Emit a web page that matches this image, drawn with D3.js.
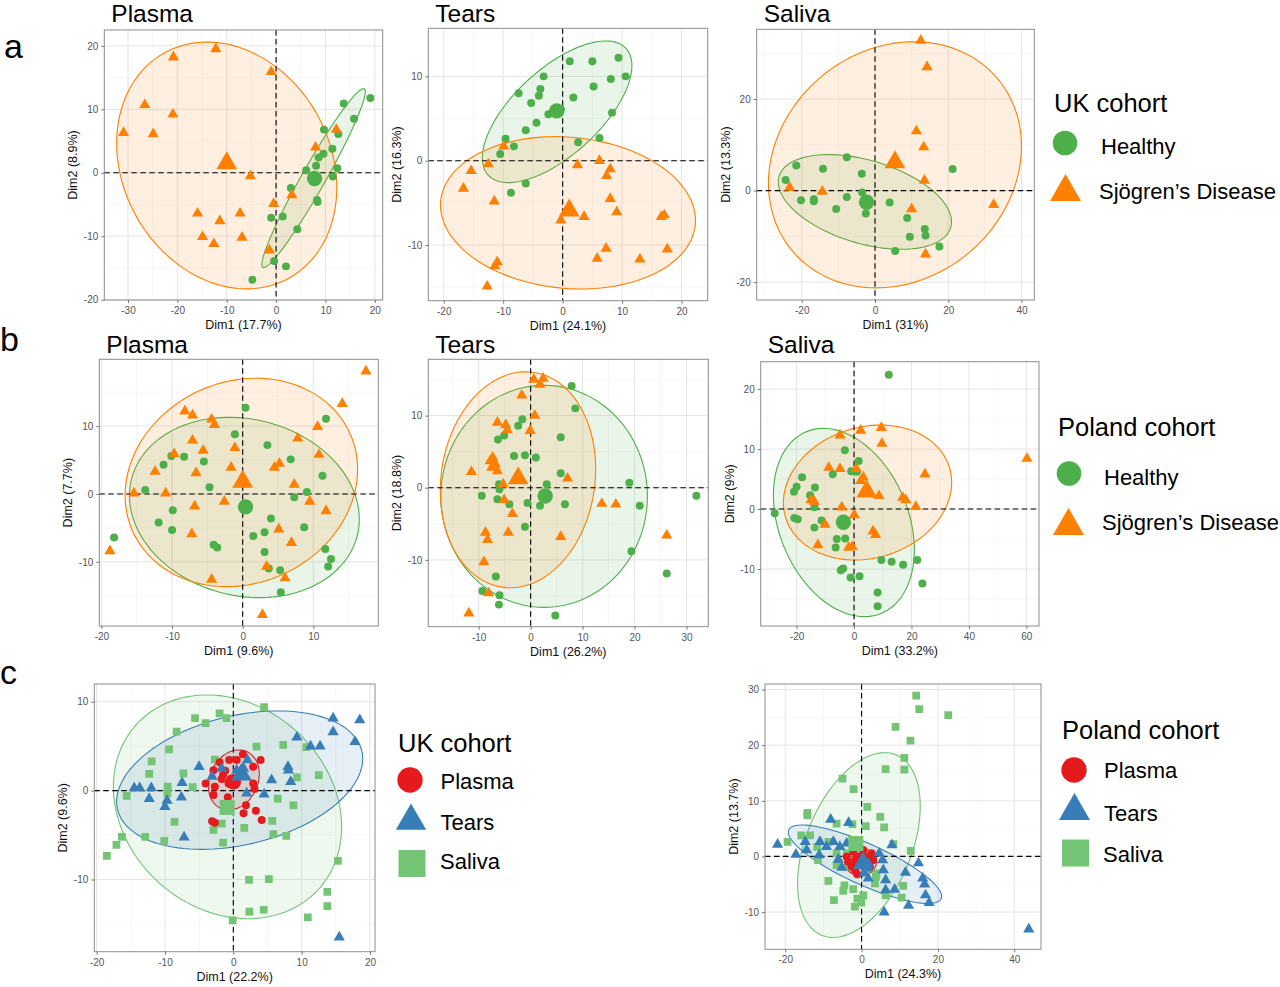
<!DOCTYPE html>
<html>
<head>
<meta charset="utf-8">
<script src="https://cdn.jsdelivr.net/npm/d3@7"></script>
<style>
body { margin: 0; background: #fff; }
svg { display: block; font-family: "Liberation Sans", Arial, sans-serif; }
</style>
</head>
<body>
<svg width="1280" height="987"></svg>
<script>
// ---------- PCA scores (Dim1, Dim2) ----------
// row a: UK cohort, healthy vs Sjogren's
var ukPlasmaHealthy = [[19.1,11.8],[13.7,10.9],[15.8,8.5],[9.7,6.8],[12.6,6.1],[11.4,3.8],[9.6,3.0],[8.6,2.4],[8.1,1.1],[6.1,0.4],[12.4,0.7],[11.5,-0.6],[3.0,-2.4],[8.3,-4.3],[8.4,-4.6],[1.35,-6.9],[-1.0,-7.1],[4.3,-8.9],[-0.4,-13.9],[2.0,-14.75],[-4.8,-16.85]];
var ukPlasmaSjogren = [[-12.2,19.5],[-20.8,18.2],[-1.0,15.9],[-26.6,10.7],[-20.9,9.2],[-30.9,6.3],[-24.9,6.1],[12.2,6.8],[8.0,4.0],[-5.2,-0.5],[3.2,-3.5],[-0.5,-4.9],[-15.9,-6.4],[-7.3,-6.4],[-11.4,-7.6],[-14.9,-10.1],[-6.9,-10.2],[-12.6,-11.2],[-1.35,-12.2]];
var ukTearsHealthy = [[9.4,12.2],[1.2,11.8],[5.0,11.8],[-3.2,10.0],[8.1,9.7],[10.6,10.0],[5.2,8.8],[-3.75,8.5],[-7.4,8.0],[-4.0,7.7],[1.8,7.5],[-5.3,6.85],[8.3,5.7],[-2.4,5.5],[-4.4,4.5],[-6.2,3.6],[-9.6,2.6],[6.2,2.7],[2.6,2.2],[-8.2,1.7],[-10.5,0.8],[-6.2,-2.7],[-8.7,-3.8],[-1.6,5.7],[-0.3,6.1]];
var ukTearsSjogren = [[-9.9,1.7],[6.2,0.0],[-12.5,-0.4],[2.5,-0.5],[8.0,-1.0],[7.4,-1.8],[-15.4,-1.2],[-16.7,-3.3],[8.0,-4.5],[-11.5,-4.8],[9.1,-6.1],[3.6,-6.65],[16.6,-6.65],[17.1,-6.45],[-0.3,-7.05],[7.3,-10.4],[17.6,-10.5],[5.8,-11.6],[13.0,-11.7],[-11.0,-12.0],[-11.4,-12.5],[-12.7,-14.9]];
var ukSalivaHealthy = [[-7.7,7.3],[-21.5,5.5],[-14.2,4.8],[-3.6,3.7],[21.2,4.7],[-24.4,2.3],[-3.5,-0.4],[-7.7,-1.4],[-20.2,-2.1],[-16.7,-1.9],[-16.7,-2.3],[4.0,-2.6],[-10.6,-4.0],[-2.5,-5.0],[8.8,-6.0],[13.6,-8.4],[13.8,-9.8],[9.5,-10.1],[17.6,-12.2],[5.5,-13.2]];
var ukSalivaSjogren = [[12.5,32.8],[14.2,27.0],[11.3,13.0],[13.3,9.5],[13.5,2.2],[-23.3,0.7],[-14.4,-0.2],[10.0,-4.0],[32.4,-3.1],[13.8,-13.9]];

// row b: Poland cohort, healthy vs Sjogren's
var plPlasmaHealthy = [[0.4,12.7],[11.8,11.1],[-1.1,8.8],[3.5,7.2],[-10.1,5.6],[-8.3,5.5],[-5.5,4.8],[6.8,5.1],[-11.2,4.3],[11.3,2.7],[-4.7,1.0],[-13.8,0.6],[9.1,0.3],[7.3,-0.5],[-9.9,-2.4],[-11.9,-4.2],[4.0,-3.6],[8.7,-4.9],[-10.0,-5.3],[3.1,-5.65],[1.5,-6.2],[-18.2,-6.4],[-4.1,-7.5],[-3.6,-7.9],[3.1,-8.55],[11.7,-8.1],[12.5,-9.6],[12.1,-10.7],[3.7,-11.0],[5.3,-11.25],[5.4,-14.5]];
var plPlasmaSjogren = [[17.45,18.1],[14.1,13.3],[-8.2,12.2],[-7.1,11.6],[-4.4,11.0],[-4.0,10.2],[10.6,9.9],[7.8,8.2],[-7.1,7.9],[-1.1,6.8],[-9.7,5.9],[-5.6,6.4],[10.8,5.8],[5.2,4.5],[4.5,3.9],[-1.65,3.9],[-12.4,3.3],[-6.6,3.1],[7.3,1.4],[-15.4,0.1],[-10.9,0.1],[-2.6,-1.1],[9.5,-1.1],[-6.8,-1.8],[11.8,-2.5],[5.1,-5.2],[-7.2,-5.9],[6.9,-7.2],[-18.8,-8.4],[3.4,-10.7],[6.0,-12.4],[-4.4,-12.6],[2.8,-17.8]];
var plTearsHealthy = [[7.9,14.1],[8.6,11.0],[-1.6,9.5],[-2.4,8.6],[5.8,7.0],[-5.1,7.25],[-6.3,6.7],[-3.2,4.4],[-1.1,4.5],[1.0,4.2],[5.8,2.0],[19.0,0.7],[3.1,0.5],[-6.1,0.5],[-6.0,-0.2],[-9.4,-1.1],[31.9,-1.1],[-6.4,-1.6],[-0.6,-2.1],[-4.1,-2.3],[1.8,-2.5],[6.6,-2.3],[21.0,-2.5],[-1.1,-5.4],[19.4,-8.8],[-6.7,-12.3],[26.2,-11.9],[-9.3,-14.3],[-6.0,-14.9],[-6.1,-16.2],[4.75,-17.7]];
var plTearsSjogren = [[0.6,15.0],[2.4,15.15],[1.8,14.3],[-1.7,12.8],[0.8,10.0],[-6.4,9.05],[-4.8,8.7],[-4.5,8.0],[-0.1,7.9],[-7.3,4.2],[-7.8,3.7],[-6.8,3.3],[-7.5,2.8],[-6.4,2.3],[-11.4,2.2],[7.1,1.3],[-5.3,0.5],[-5.1,-1.7],[13.7,-2.2],[16.4,-2.3],[-3.5,-3.6],[-8.7,-6.2],[-4.3,-6.2],[-8.3,-7.2],[5.8,-6.8],[26.2,-6.6],[-9.0,-10.3],[-8.1,-14.6],[-11.9,-17.4]];
var plSalivaHealthy = [[12.1,22.4],[-3.2,9.8],[1.6,8.0],[-1.0,6.3],[1.0,6.2],[-7.4,5.8],[-18.1,5.3],[-20.0,3.7],[-20.9,2.9],[-13.6,3.6],[-15.3,2.3],[-13.8,0.3],[-27.6,-0.7],[-20.8,-1.5],[-19.6,-1.7],[-11.3,-1.9],[-13.8,-3.1],[-6.0,-5.0],[-3.1,-4.9],[-6.4,-6.4],[9.5,-8.5],[13.1,-8.8],[22.0,-8.5],[17.1,-9.3],[-4.6,-10.2],[-3.8,-9.9],[-1.2,-11.4],[1.9,-11.2],[23.8,-12.4],[8.2,-13.9],[8.2,-16.2]];
var plSalivaSjogren = [[60.2,8.4],[-4.9,12.3],[2.3,13.1],[9.5,13.55],[9.7,10.9],[-8.8,6.9],[-4.9,6.7],[0.8,6.7],[3.2,5.3],[24.7,5.8],[2.3,4.7],[8.7,2.2],[16.9,1.9],[18.0,1.5],[21.5,0.4],[-15.0,1.5],[-13.8,1.2],[-4.3,0.3],[0.1,-1.0],[-10.1,-2.6],[6.6,-3.7],[7.5,-4.3],[-12.6,-6.0],[-1.9,-6.4],[-0.6,-6.3]];

// row c: all samples by fluid
var ukFluidPlasma = [[1.4,4.1],[0.5,3.45],[-0.6,3.45],[4.0,3.45],[2.9,2.7],[-2.0,3.2],[-2.9,2.3],[-1.2,2.25],[1.0,1.8],[-1.7,1.3],[-0.4,1.3],[-0.7,0.8],[-4.05,0.8],[-2.7,0.45],[2.9,0.8],[3.1,0.2],[-2.9,-0.5],[-0.8,-0.75],[1.85,-1.65],[3.3,-2.25],[1.5,-2.55],[4.15,-3.3],[-3.1,-3.45],[-2.7,-3.6],[0.0,1.2],[-1.5,1.75]];
var ukFluidTears = [[14.6,8.15],[18.5,7.95],[14.6,6.6],[17.8,5.5],[9.3,6.0],[11.3,5.0],[12.7,5.0],[-5.0,2.7],[8.0,2.7],[8.05,2.3],[-3.1,1.6],[-1.7,2.5],[2.05,3.45],[5.6,1.2],[8.4,1.0],[-7.5,0.9],[-14.5,0.3],[-13.7,0.3],[-12.0,0.3],[-12.3,-0.9],[-9.7,-1.1],[-10.0,-1.8],[-7.6,-0.75],[1.95,-0.3],[4.5,-0.4],[-7.2,-5.25],[15.5,-16.5],[0.5,2.3],[1.5,2.5]];
var ukFluidSaliva = [[4.5,9.4],[-2.0,8.7],[-1.0,8.15],[-5.6,8.15],[-4.05,7.6],[-8.3,6.65],[-9.4,4.65],[3.4,4.95],[7.3,5.15],[10.7,4.9],[-11.95,3.3],[-12.3,1.9],[-2.7,3.5],[-7.3,1.95],[12.5,1.75],[9.3,1.5],[-5.95,0.4],[-9.6,0.45],[-9.65,-0.3],[-15.6,-0.6],[6.5,-0.9],[8.8,-1.65],[-8.6,-3.5],[5.7,-3.4],[-1.7,-3.7],[1.6,-4.2],[-2.9,-4.4],[-12.9,-5.2],[-10.1,-5.65],[-16.3,-5.2],[-17.1,-6.1],[-18.5,-7.35],[-1.5,-5.85],[5.85,-4.9],[7.75,-5.1],[15.3,-7.9],[2.3,-10.05],[5.2,-9.95],[13.75,-11.4],[13.75,-13.0],[2.35,-13.6],[4.45,-13.4],[10.9,-14.25],[-0.1,-14.6]];
var plFluidPlasma = [[-1.3,-0.35],[-0.45,-1.25],[-1.75,-2.45],[1.3,-0.05],[2.6,0.55],[-3.5,-0.95],[-2.2,0.85],[0.45,1.15],[-1.15,-3.2],[2.2,-1.85],[-2.6,-1.85],[-0.6,0.05],[3.05,-0.65],[-3.9,-0.05]];
var plFluidTears = [[-22.0,2.15],[-8.1,6.65],[-3.4,6.05],[-17.2,0.35],[-14.75,2.65],[-14.4,1.15],[-10.9,2.65],[-9.2,1.75],[-7.4,2.65],[-5.7,1.75],[-3.9,2.35],[-11.1,0.25],[-6.1,-0.55],[-5.2,-2.0],[-0.45,-0.55],[1.75,-1.25],[4.6,0.55],[5.5,-0.65],[5.7,-2.45],[1.75,-3.95],[6.3,-4.25],[7.95,2.05],[6.3,-6.05],[8.65,-5.95],[11.5,-2.9],[14.9,-1.2],[16.0,-3.95],[16.5,-5.0],[16.75,-6.95],[17.7,-8.35],[12.3,-8.85],[5.9,-10.05],[43.8,-13.1],[0.6,-3.05],[1.3,-2.15]];
var plFluidSaliva = [[14.3,28.9],[15.1,26.5],[22.7,25.4],[8.9,23.3],[12.8,20.8],[11.2,17.7],[11.2,15.6],[6.3,15.7],[-5.0,14.0],[-2.1,12.1],[1.5,8.9],[-14.2,7.85],[-14.2,7.4],[4.9,7.1],[5.9,5.2],[1.1,5.45],[-6.55,5.9],[-2.4,5.8],[-15.8,3.8],[-13.5,3.8],[-19.4,2.6],[8.3,2.2],[12.9,1.0],[-1.75,2.6],[-8.7,2.6],[-11.6,1.7],[-2.2,1.7],[-11.4,-0.65],[-6.55,-1.55],[-3.5,-1.85],[1.3,-2.45],[3.75,-3.65],[3.5,-4.85],[-8.7,-4.4],[-4.5,-5.2],[-4.8,-6.2],[-2.2,-5.9],[6.3,-7.0],[10.9,-5.3],[10.5,-7.4],[-7.25,-7.85],[-1.1,-7.6],[0.45,-7.0],[-0.1,-8.3],[-1.75,-9.05],[-3.9,0.55],[-6.55,0.55],[3.9,-3.05]];

// group means, one per group in drawing order
var ukPlasmaMeans = [[7.8,-0.9],[-10.0,1.5]];
var ukTearsMeans = [[-1.0,5.9],[1.1,-5.9]];
var ukSalivaMeans = [[-2.3,-2.55],[5.45,6.2]];
var plPlasmaMeans = [[0.4,-1.9],[0.0,1.8]];
var plTearsMeans = [[2.8,-1.15],[-2.4,1.3]];
var plSalivaMeans = [[-3.7,-2.2],[4.4,2.9]];
var ukFluidMeans = [[-0.9,-1.9],[0.0,1.0],[1.2,1.8]];   // saliva, plasma, tears
var plFluidMeans = [[-1.5,2.3],[-0.9,-0.95],[0.4,-1.25]];

// concentration ellipses: [centre x, centre y, half-range x, half-range y, correlation]
var ukPlasmaEllipses = [[7.6,-0.84,10.47,14.1,0.965],[-10.0,1.15,22.3,19.45,-0.18]];
var ukTearsEllipses = [[-0.93,5.8,12.58,8.4,0.65],[0.9,-6.18,21.45,9.03,-0.1]];
var ukSalivaEllipses = [[-2.75,-2.47,23.65,10.35,-0.42],[5.45,5.64,34.55,26.9,0.15]];
var plPlasmaEllipses = [[0.24,-1.99,16.27,13.29,-0.13],[-0.19,1.7,16.46,15.36,0.125]];
var plTearsEllipses = [[2.6,-1.19,19.88,15.39,0.0],[-2.44,1.1,14.96,14.97,0.1]];
var plSalivaEllipses = [[-3.54,-2.25,24.54,15.69,-0.29],[4.7,2.75,29.3,11.25,0.15]];
var ukFluidEllipses = [[-0.85,-1.82,16.7,12.59,-0.18],[0.07,1.2,3.73,3.38,0.2],[0.93,1.18,18.0,7.79,0.31]];
var plFluidEllipses = [[-0.7,2.04,16.07,16.61,0.42],[-0.26,-1.0,4.15,2.49,0.0],[0.88,-1.41,20.08,7.05,-0.82]];

// axis ticks
var ukPlasmaXTicks = [-30,-20,-10,0,10,20], ukPlasmaYTicks = [-20,-10,0,10,20];
var ukTearsXTicks = [-20,-10,0,10,20], ukTearsYTicks = [-10,0,10];
var ukSalivaXTicks = [-20,0,20,40], ukSalivaYTicks = [-20,0,20];
var plPlasmaXTicks = [-20,-10,0,10], plPlasmaYTicks = [-10,0,10];
var plTearsXTicks = [-10,0,10,20,30], plTearsYTicks = [-10,0,10];
var plSalivaXTicks = [-20,0,20,40,60], plSalivaYTicks = [-10,0,10,20];
var ukFluidXTicks = [-20,-10,0,10,20], ukFluidYTicks = [-10,0,10];
var plFluidXTicks = [-20,0,20,40], plFluidYTicks = [-10,0,10,20,30];

var GREEN = "#4DAF4A", ORANGE = "#FF7F00", RED = "#E41A1C", BLUE = "#377EB8", LGREEN = "#74C476";

var svg = d3.select("svg");

function shapeOf(name) {
    return name == "circle" ? d3.symbolCircle : name == "triangle" ? d3.symbolTriangle : d3.symbolSquare;
}
var ptSize = {circle: 50, triangle: 54, square: 60};
var meanSize = {circle: 185, triangle: 185, square: 225};

var panels = [
    {box: [104.3,30,382.7,300], xd: [-34.8,21.6], yd: [-20.05,22.5], xt: ukPlasmaXTicks, yt: ukPlasmaYTicks,
     xl: "Dim1 (17.7%)", yl: "Dim2 (8.9%)", title: "Plasma", tb: 22,
     groups: [[ukPlasmaHealthy, GREEN, "circle"], [ukPlasmaSjogren, ORANGE, "triangle"]], means: ukPlasmaMeans, ell: ukPlasmaEllipses},
    {box: [428.3,28.3,707.7,300.7], xd: [-22.6,24.4], yd: [-16.6,15.7], xt: ukTearsXTicks, yt: ukTearsYTicks,
     xl: "Dim1 (24.1%)", yl: "Dim2 (16.3%)", title: "Tears", tb: 22,
     groups: [[ukTearsHealthy, GREEN, "circle"], [ukTearsSjogren, ORANGE, "triangle"]], means: ukTearsMeans, ell: ukTearsEllipses},
    {box: [756.7,29.3,1034.3,300], xd: [-32.3,43.5], yd: [-23.9,35.25], xt: ukSalivaXTicks, yt: ukSalivaYTicks,
     xl: "Dim1 (31%)", yl: "Dim2 (13.3%)", title: "Saliva", tb: 22,
     groups: [[ukSalivaHealthy, GREEN, "circle"], [ukSalivaSjogren, ORANGE, "triangle"]], means: ukSalivaMeans, ell: ukSalivaEllipses},
    {box: [99.3,359.3,378.3,626], xd: [-20.3,19.2], yd: [-19.46,19.85], xt: plPlasmaXTicks, yt: plPlasmaYTicks,
     xl: "Dim1 (9.6%)", yl: "Dim2 (7.7%)", title: "Plasma", tb: 352.5,
     groups: [[plPlasmaHealthy, GREEN, "circle"], [plPlasmaSjogren, ORANGE, "triangle"]], means: plPlasmaMeans, ell: plPlasmaEllipses},
    {box: [428.3,359.3,708.3,626.7], xd: [-19.7,34.2], yd: [-19.26,17.8], xt: plTearsXTicks, yt: plTearsYTicks,
     xl: "Dim1 (26.2%)", yl: "Dim2 (18.8%)", title: "Tears", tb: 352.5,
     groups: [[plTearsHealthy, GREEN, "circle"], [plTearsSjogren, ORANGE, "triangle"]], means: plTearsMeans, ell: plTearsEllipses},
    {box: [760.7,361.7,1039,626], xd: [-32.5,64.4], yd: [-19.5,24.56], xt: plSalivaXTicks, yt: plSalivaYTicks,
     xl: "Dim1 (33.2%)", yl: "Dim2 (9%)", title: "Saliva", tb: 352.5,
     groups: [[plSalivaHealthy, GREEN, "circle"], [plSalivaSjogren, ORANGE, "triangle"]], means: plSalivaMeans, ell: plSalivaEllipses},
    {box: [94.3,684,375,951.7], xd: [-20.34,20.73], yd: [-18.12,12.0], xt: ukFluidXTicks, yt: ukFluidYTicks,
     xl: "Dim1 (22.2%)", yl: "Dim2 (9.6%)", title: null,
     groups: [[ukFluidSaliva, LGREEN, "square"], [ukFluidPlasma, RED, "circle"], [ukFluidTears, BLUE, "triangle"]], means: ukFluidMeans, ell: ukFluidEllipses},
    {box: [765,684,1041,949.3], xd: [-25.3,47.0], yd: [-16.7,31.0], xt: plFluidXTicks, yt: plFluidYTicks,
     xl: "Dim1 (24.3%)", yl: "Dim2 (13.7%)", title: null,
     groups: [[plFluidSaliva, LGREEN, "square"], [plFluidPlasma, RED, "circle"], [plFluidTears, BLUE, "triangle"]], means: plFluidMeans, ell: plFluidEllipses}
];

function ellipsePoints(e) {
    var s = Math.sqrt(1 - e[4] * e[4]);
    return d3.range(0, 121).map(function(i) {
        var t = i / 120 * 2 * Math.PI;
        return [e[0] + e[2] * Math.cos(t), e[1] + e[3] * (e[4] * Math.cos(t) + s * Math.sin(t))];
    });
}

function minorTicks(ticks, dom) {
    var step = ticks[1] - ticks[0];
    return d3.range(ticks[0] - step / 2, ticks[ticks.length - 1] + step, step)
             .filter(function(v) { return v > dom[0] && v < dom[1]; });
}

panels.forEach(function(p, k) {
    var b = p.box,
        x = d3.scaleLinear().domain(p.xd).range([b[0], b[2]]),
        y = d3.scaleLinear().domain(p.yd).range([b[3], b[1]]),
        g = svg.append("g");

    g.append("clipPath").attr("id", "clip" + k)
      .append("rect").attr("x", b[0]).attr("y", b[1]).attr("width", b[2] - b[0]).attr("height", b[3] - b[1]);

    // grid
    var grid = g.append("g");
    grid.selectAll(".vmin").data(minorTicks(p.xt, p.xd)).enter().append("line")
        .attr("x1", x).attr("x2", x).attr("y1", b[1]).attr("y2", b[3])
        .attr("stroke", "#F2F2F2").attr("stroke-width", 0.6);
    grid.selectAll(".hmin").data(minorTicks(p.yt, p.yd)).enter().append("line")
        .attr("y1", y).attr("y2", y).attr("x1", b[0]).attr("x2", b[2])
        .attr("stroke", "#F2F2F2").attr("stroke-width", 0.6);
    grid.selectAll(".vmaj").data(p.xt).enter().append("line")
        .attr("x1", x).attr("x2", x).attr("y1", b[1]).attr("y2", b[3])
        .attr("stroke", "#E5E5E5").attr("stroke-width", 1);
    grid.selectAll(".hmaj").data(p.yt).enter().append("line")
        .attr("y1", y).attr("y2", y).attr("x1", b[0]).attr("x2", b[2])
        .attr("stroke", "#E5E5E5").attr("stroke-width", 1);

    var plot = g.append("g").attr("clip-path", "url(#clip" + k + ")");
    var line = d3.line().x(function(d) { return x(d[0]); }).y(function(d) { return y(d[1]); })
                 .curve(d3.curveLinearClosed);

    // ellipses
    p.ell.forEach(function(e, i) {
        plot.append("path").datum(ellipsePoints(e))
            .attr("d", line)
            .attr("fill", p.groups[i][1]).attr("fill-opacity", 0.12)
            .attr("stroke", p.groups[i][1]).attr("stroke-width", 1.1);
    });

    // reference lines
    plot.append("line").attr("x1", b[0]).attr("x2", b[2]).attr("y1", y(0)).attr("y2", y(0))
        .attr("stroke", "#000").attr("stroke-width", 1.1).attr("stroke-dasharray", "5.5,3.5");
    plot.append("line").attr("y1", b[1]).attr("y2", b[3]).attr("x1", x(0)).attr("x2", x(0))
        .attr("stroke", "#000").attr("stroke-width", 1.1).attr("stroke-dasharray", "5.5,3.5");

    // points
    p.groups.forEach(function(gr) {
        plot.selectAll(null).data(gr[0]).enter().append("path")
            .attr("d", d3.symbol().type(shapeOf(gr[2])).size(ptSize[gr[2]]))
            .attr("transform", function(d) { return "translate(" + x(d[0]) + "," + y(d[1]) + ")"; })
            .attr("fill", gr[1]);
    });
    // group means
    p.groups.forEach(function(gr, i) {
        plot.append("path")
            .attr("d", d3.symbol().type(shapeOf(gr[2])).size(meanSize[gr[2]]))
            .attr("transform", "translate(" + x(p.means[i][0]) + "," + y(p.means[i][1]) + ")")
            .attr("fill", gr[1]);
    });

    // border
    g.append("rect").attr("x", b[0]).attr("y", b[1]).attr("width", b[2] - b[0]).attr("height", b[3] - b[1])
        .attr("fill", "none").attr("stroke", "#8C8C8C").attr("stroke-width", 1);

    // axes
    var xa = g.append("g").attr("transform", "translate(0," + b[3] + ")")
        .call(d3.axisBottom(x).tickValues(p.xt).tickSize(3).tickPadding(4).tickFormat(function(d) { return String(d); }));
    var ya = g.append("g").attr("transform", "translate(" + b[0] + ",0)")
        .call(d3.axisLeft(y).tickValues(p.yt).tickSize(3).tickPadding(3).tickFormat(function(d) { return String(d); }));
    [xa, ya].forEach(function(a) {
        a.select(".domain").remove();
        a.selectAll("line").attr("stroke", "#555").attr("stroke-width", 0.8);
        a.selectAll("text").attr("fill", "#555").style("font-size", "10px").style("font-family", "Liberation Sans, Arial, sans-serif");
    });

    g.append("text").attr("x", (b[0] + b[2]) / 2).attr("y", b[3] + 29)
        .attr("text-anchor", "middle").style("font-size", "12.5px").attr("fill", "#111").text(p.xl);
    g.append("text").attr("transform", "translate(" + (b[0] - 27) + "," + ((b[1] + b[3]) / 2) + ") rotate(-90)")
        .attr("text-anchor", "middle").style("font-size", "12.5px").attr("fill", "#111").text(p.yl);

    if (p.title) {
        g.append("text").attr("x", b[0] + 7).attr("y", p.tb)
            .style("font-size", "24.5px").attr("fill", "#000").text(p.title);
    }
});

// panel letters
[["a", 4, 58], ["b", 0, 351], ["c", 0, 684]].forEach(function(l) {
    svg.append("text").attr("x", l[1]).attr("y", l[2]).style("font-size", "34px").text(l[0]);
});

// legends
function legend(title, tx, ty, items) {
    var lg = svg.append("g");
    lg.append("text").attr("x", tx).attr("y", ty).style("font-size", "25.5px").text(title);
    items.forEach(function(it) {
        lg.append("path")
          .attr("d", d3.symbol().type(shapeOf(it.shape)).size(it.size))
          .attr("transform", "translate(" + it.sx + "," + it.sy + ")")
          .attr("fill", it.color);
        lg.append("text").attr("x", it.lx).attr("y", it.ly).style("font-size", "22px").text(it.label);
    });
}
legend("UK cohort", 1054, 112, [
    {shape: "circle", size: 475, color: GREEN, sx: 1065, sy: 143, label: "Healthy", lx: 1101, ly: 154},
    {shape: "triangle", size: 416, color: ORANGE, sx: 1065.5, sy: 192, label: "Sjögren’s Disease", lx: 1099, ly: 198.5}
]);
legend("Poland cohort", 1058, 436, [
    {shape: "circle", size: 475, color: GREEN, sx: 1069, sy: 473.5, label: "Healthy", lx: 1104, ly: 485},
    {shape: "triangle", size: 416, color: ORANGE, sx: 1068.5, sy: 526, label: "Sjögren’s Disease", lx: 1102, ly: 530}
]);
legend("UK cohort", 398, 752, [
    {shape: "circle", size: 505, color: RED, sx: 410, sy: 780, label: "Plasma", lx: 440.5, ly: 789},
    {shape: "triangle", size: 400, color: BLUE, sx: 411, sy: 821, label: "Tears", lx: 440.5, ly: 830},
    {shape: "square", size: 729, color: LGREEN, sx: 412, sy: 863.5, label: "Saliva", lx: 440, ly: 869}
]);
legend("Poland cohort", 1062, 739, [
    {shape: "circle", size: 505, color: RED, sx: 1074, sy: 770, label: "Plasma", lx: 1104, ly: 778},
    {shape: "triangle", size: 416, color: BLUE, sx: 1074.5, sy: 811, label: "Tears", lx: 1104, ly: 821},
    {shape: "square", size: 729, color: LGREEN, sx: 1075.5, sy: 853, label: "Saliva", lx: 1103, ly: 862}
]);
</script>
</body>
</html>
